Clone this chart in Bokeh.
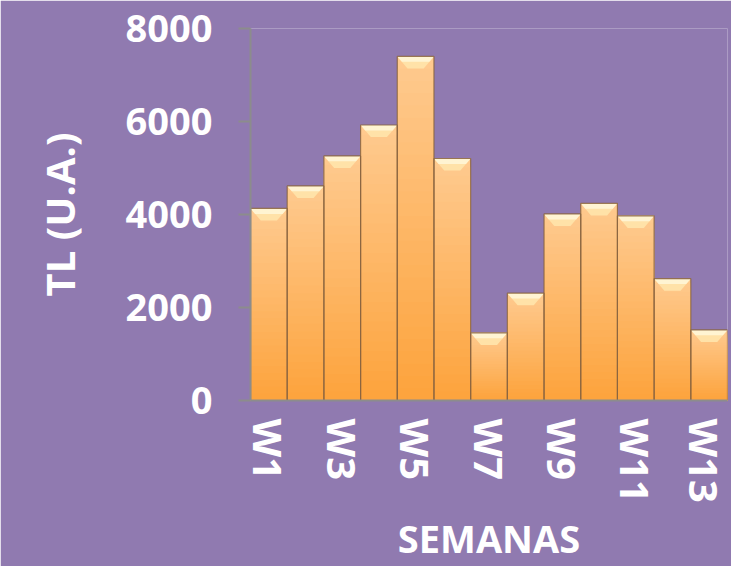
import numpy as np
from bokeh.plotting import figure
from bokeh.models import Range1d, FixedTicker
from bokeh.embed import file_html
from bokeh.resources import INLINE

# ---- data ----
weeks = ["W1", "W2", "W3", "W4", "W5", "W6", "W7", "W8", "W9", "W10", "W11", "W12", "W13"]
tl_values = [4130, 4615, 5260, 5925, 7400, 5204, 1455, 2308, 4012, 4241, 3971, 2620, 1518]
y_ticks = [0, 2000, 4000, 6000, 8000]
shown_week_labels = ["W1", "W3", "W5", "W7", "W9", "W11", "W13"]

BG = "#907AB0"
FONT = "Open Sans"

x = np.arange(1, len(weeks) + 1)
v = np.array(tl_values, dtype=float)

p = figure(width=731, height=566, output_backend="svg", toolbar_location=None,
           x_range=Range1d(0.5, len(weeks) + 0.5), y_range=Range1d(0, 8000),
           background_fill_color=BG, border_fill_color=BG,
           min_border_left=250, min_border_right=4, min_border_top=28, min_border_bottom=150)
p.outline_line_color = None
p.grid.visible = False

# vertical gradient built from stacked bars (light top -> deeper orange bottom)
top_rgb = np.array([255, 202, 142])
bot_rgb = np.array([253, 164, 62])
N = 28
for k in range(N):
    t = k / (N - 1)
    c = (top_rgb * (1 - t) + bot_rgb * t).astype(int)
    col = "#%02x%02x%02x" % tuple(c)
    p.vbar(x=x, top=v * (1 - k / N), bottom=0, width=1.0, fill_color=col, line_color=None)

# bevel highlight at top of each bar (trapezoid)
h = 260.0
inset = 0.28
xs = [[xi - 0.5, xi + 0.5, xi + 0.5 - inset, xi - 0.5 + inset] for xi in x]
ys = [[vi, vi, vi - h, vi - h] for vi in v]
p.patches(xs, ys, fill_color="#FFE2A8", line_color=None)
xs2 = [[xi - 0.5, xi + 0.5, xi + 0.5 - inset * 0.45, xi - 0.5 + inset * 0.45] for xi in x]
ys2 = [[vi, vi, vi - h * 0.45, vi - h * 0.45] for vi in v]
p.patches(xs2, ys2, fill_color="#FFF4D2", line_color=None)

# outlines
p.vbar(x=x, top=v, bottom=0, width=1.0, fill_color=None, line_color="#8A6440", line_width=1.2, line_alpha=0.85)

# axes
yax = p.yaxis[0]
yax.ticker = FixedTicker(ticks=y_ticks)
yax.minor_tick_line_color = None
yax.axis_line_color = "#8C8C8C"
yax.axis_line_width = 2
yax.major_tick_line_color = "#8C8C8C"
yax.major_tick_line_width = 2
yax.major_tick_out = 12
yax.major_tick_in = 0
yax.major_label_standoff = 26
yax.major_label_text_font = FONT
yax.major_label_text_font_style = "bold"
yax.major_label_text_font_size = "38px"
yax.major_label_text_color = "white"
yax.axis_label = "TL (U.A.)"
yax.axis_label_text_font = FONT
yax.axis_label_text_font_style = "bold"
yax.axis_label_text_font_size = "40px"
yax.axis_label_text_color = "white"
yax.axis_label_standoff = 36

xax = p.xaxis[0]
label_ticks = [i + 1 for i, w in enumerate(weeks) if w in shown_week_labels]
xax.ticker = FixedTicker(ticks=label_ticks)
xax.major_label_overrides = {i + 1: w for i, w in enumerate(weeks)}
xax.minor_tick_line_color = None
xax.major_tick_line_color = None
xax.major_tick_out = 0
xax.major_tick_in = 0
xax.axis_line_color = "#8C8C8C"
xax.axis_line_width = 2
xax.major_label_orientation = "vertical"
xax.major_label_standoff = 18
xax.major_label_text_font = FONT
xax.major_label_text_font_style = "bold"
xax.major_label_text_font_size = "40px"
xax.major_label_text_color = "white"
xax.axis_label = "SEMANAS"
xax.axis_label_text_font = FONT
xax.axis_label_text_font_style = "bold"
xax.axis_label_text_font_size = "38px"
xax.axis_label_text_color = "white"
xax.axis_label_standoff = 6

open("out.html", "w").write(file_html(p, INLINE))
